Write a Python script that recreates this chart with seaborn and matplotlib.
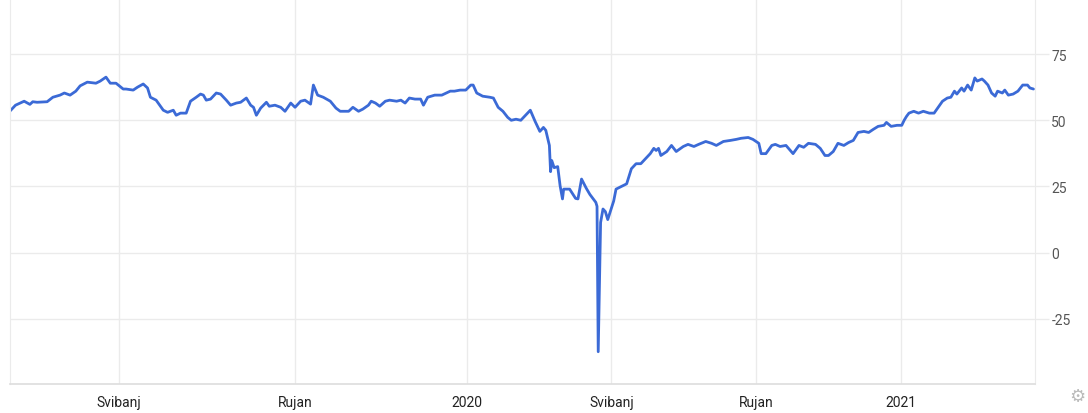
import numpy as np
import pandas as pd
import matplotlib
matplotlib.use('Agg')
import matplotlib.pyplot as plt
import matplotlib.dates as mdates
import seaborn as sns

# price readings (date, value)
dates_2019 = ['2019-02-14', '2019-02-18', '2019-02-24', '2019-02-28', '2019-03-02', '2019-03-05',
              '2019-03-12', '2019-03-16', '2019-03-21', '2019-03-24', '2019-03-28', '2019-04-01',
              '2019-04-04', '2019-04-09', '2019-04-15', '2019-04-18', '2019-04-22', '2019-04-25',
              '2019-04-29', '2019-05-04', '2019-05-06', '2019-05-11', '2019-05-14', '2019-05-18',
              '2019-05-21', '2019-05-23', '2019-05-27', '2019-06-01', '2019-06-04', '2019-06-08',
              '2019-06-10', '2019-06-13', '2019-06-17', '2019-06-20', '2019-06-24', '2019-06-27',
              '2019-06-29', '2019-07-01', '2019-07-04', '2019-07-08', '2019-07-11', '2019-07-15',
              '2019-07-18', '2019-07-22', '2019-07-25', '2019-07-29', '2019-08-01', '2019-08-03',
              '2019-08-05', '2019-08-08', '2019-08-12', '2019-08-14', '2019-08-18', '2019-08-22',
              '2019-08-25', '2019-08-29', '2019-09-01', '2019-09-05', '2019-09-08', '2019-09-12',
              '2019-09-14', '2019-09-17', '2019-09-21', '2019-09-26', '2019-09-30', '2019-10-03',
              '2019-10-09', '2019-10-12', '2019-10-16', '2019-10-19', '2019-10-23', '2019-10-25',
              '2019-10-28', '2019-10-31', '2019-11-04', '2019-11-07', '2019-11-12', '2019-11-15',
              '2019-11-18', '2019-11-21', '2019-11-25', '2019-11-29', '2019-12-01', '2019-12-04',
              '2019-12-09', '2019-12-14', '2019-12-20', '2019-12-23', '2019-12-27', '2019-12-31']
price_2019 = [53.4, 55.7, 57.2, 56.0, 57.0, 56.8,
              57.0, 58.7, 59.5, 60.3, 59.5, 61.0,
              63.0, 64.4, 64.0, 64.8, 66.3, 64.0,
              64.0, 61.8, 61.8, 61.4, 62.5, 63.7,
              62.2, 58.7, 57.6, 53.8, 53.0, 53.8,
              51.9, 52.7, 52.7, 57.2, 58.7, 59.9,
              59.5, 57.6, 58.0, 60.3, 59.9, 57.6,
              55.7, 56.5, 56.8, 58.4, 55.7, 54.9,
              51.9, 54.6, 56.8, 55.3, 55.7, 54.9,
              53.4, 56.5, 54.9, 57.2, 57.6, 56.1,
              63.3, 59.5, 58.7, 57.2, 54.6, 53.4,
              53.4, 54.9, 53.4, 54.2, 55.7, 57.2,
              56.5, 55.3, 57.2, 57.6, 57.2, 57.6,
              56.5, 58.4, 58.0, 58.0, 55.7, 58.7,
              59.5, 59.5, 61.0, 61.0, 61.4, 61.4]

dates_2020 = ['2020-01-04', '2020-01-06', '2020-01-09', '2020-01-14', '2020-01-20', '2020-01-23',
              '2020-01-27', '2020-01-31', '2020-02-04', '2020-02-07', '2020-02-11', '2020-02-15',
              '2020-02-23', '2020-02-27', '2020-03-02', '2020-03-05', '2020-03-07', '2020-03-10',
              '2020-03-11', '2020-03-12', '2020-03-14', '2020-03-17', '2020-03-19', '2020-03-21',
              '2020-03-22', '2020-03-27', '2020-04-01', '2020-04-03', '2020-04-06', '2020-04-10',
              '2020-04-13', '2020-04-18', '2020-04-19', '2020-04-20', '2020-04-22', '2020-04-24',
              '2020-04-26', '2020-04-28', '2020-05-03', '2020-05-05', '2020-05-09', '2020-05-14',
              '2020-05-18', '2020-05-22', '2020-05-26', '2020-05-30', '2020-06-03', '2020-06-06',
              '2020-06-08', '2020-06-10', '2020-06-12', '2020-06-17', '2020-06-21', '2020-06-25',
              '2020-07-01', '2020-07-05', '2020-07-10', '2020-07-14', '2020-07-20', '2020-07-25',
              '2020-07-29', '2020-08-04', '2020-08-10', '2020-08-15', '2020-08-19', '2020-08-25',
              '2020-08-29', '2020-09-03', '2020-09-05', '2020-09-09', '2020-09-14', '2020-09-17',
              '2020-09-21', '2020-09-26', '2020-10-02', '2020-10-07', '2020-10-11', '2020-10-15',
              '2020-10-21', '2020-10-25', '2020-10-29', '2020-11-01', '2020-11-05', '2020-11-09',
              '2020-11-14', '2020-11-18', '2020-11-22', '2020-11-26', '2020-12-01', '2020-12-05',
              '2020-12-09', '2020-12-13', '2020-12-18', '2020-12-20', '2020-12-24', '2020-12-29']
price_2020 = [63.3, 63.3, 60.3, 59.1, 58.7, 58.4,
              54.9, 53.4, 51.1, 50.0, 50.4, 50.0,
              53.8, 49.6, 45.8, 47.3, 46.2, 40.5,
              30.6, 34.8, 32.1, 32.5, 25.3, 20.3,
              24.0, 24.0, 20.5, 20.3, 27.8, 24.3,
              22.0, 19.0, 17.5, -37.4, 11.4, 16.5,
              15.5, 12.5, 19.5, 24.0, 24.9, 26.0,
              31.7, 33.6, 33.6, 35.5, 37.4, 39.4,
              38.6, 39.4, 36.7, 38.2, 40.5, 38.2,
              40.1, 40.9, 40.1, 40.9, 42.0, 41.3,
              40.5, 42.0, 42.4, 42.8, 43.2, 43.5,
              42.8, 41.3, 37.4, 37.4, 40.5, 40.9,
              40.1, 40.5, 37.4, 40.5, 39.8, 41.3,
              40.9, 39.4, 36.7, 36.7, 38.2, 41.3,
              40.5, 41.6, 42.4, 45.4, 45.8, 45.4,
              46.6, 47.7, 48.1, 49.2, 47.7, 48.1]

dates_2021 = ['2021-01-02', '2021-01-04', '2021-01-06', '2021-01-08', '2021-01-12', '2021-01-16',
              '2021-01-20', '2021-01-25', '2021-01-29', '2021-02-01', '2021-02-05', '2021-02-09',
              '2021-02-12', '2021-02-15', '2021-02-17', '2021-02-21', '2021-02-23', '2021-02-26',
              '2021-03-01', '2021-03-04', '2021-03-06', '2021-03-10', '2021-03-12', '2021-03-15',
              '2021-03-18', '2021-03-21', '2021-03-23', '2021-03-27', '2021-03-29', '2021-04-01',
              '2021-04-05', '2021-04-09', '2021-04-13', '2021-04-17', '2021-04-19', '2021-04-22']
price_2021 = [48.1, 50.0, 51.5, 52.7, 53.4, 52.7,
              53.4, 52.7, 52.7, 54.6, 57.2, 58.4,
              58.7, 61.0, 59.9, 62.2, 61.0, 63.3,
              61.4, 66.0, 64.8, 65.6, 64.8, 63.3,
              60.3, 59.1, 61.0, 60.3, 61.4, 59.5,
              59.9, 61.0, 63.3, 63.3, 62.2, 61.8]

tick_dates = ['2019-05-01', '2019-09-01', '2020-01-01', '2020-05-01', '2020-09-01', '2021-01-01']
tick_labels = ['Svibanj', 'Rujan', '2020', 'Svibanj', 'Rujan', '2021']
y_ticks = [-25, 0, 25, 50, 75]

df = pd.DataFrame({
    'date': pd.to_datetime(dates_2019 + dates_2020 + dates_2021),
    'price': price_2019 + price_2020 + price_2021,
})

# the source chart stretches its time axis unevenly -> piecewise linear scale
anchor_dates = ['2019-02-14', '2019-05-01', '2019-09-01', '2020-01-01',
                '2020-05-01', '2020-09-01', '2021-01-01', '2021-04-23']
anchor_pos = [0, 109, 285, 457, 601, 746, 890, 1024]
a_x = mdates.date2num(pd.to_datetime(anchor_dates))
a_x = np.concatenate([[a_x[0] - 5000], a_x, [a_x[-1] + 5000]])
a_p = np.array(anchor_pos, dtype=float)
s0 = (a_p[1] - a_p[0]) / (a_x[2] - a_x[1])
s1 = (a_p[-1] - a_p[-2]) / (a_x[-2] - a_x[-3])
a_p = np.concatenate([[a_p[0] - 5000 * s0], a_p, [a_p[-1] + 5000 * s1]])


def fwd(v):
    return np.interp(v, a_x, a_p)


def inv(v):
    return np.interp(v, a_p, a_x)


sns.set_style('white')
plt.rcParams['font.family'] = ['Roboto', 'DejaVu Sans']

fig = plt.figure(figsize=(10.88, 4.14), dpi=100)
ax = fig.add_axes([0.009, 0.070, 0.942, 0.930])

sns.lineplot(data=df, x='date', y='price', ax=ax, color='#3b6ad6', linewidth=2.0)

ax.set_xscale('function', functions=(fwd, inv))
ax.set_xlim(a_x[1], a_x[-2])
ax.set_ylim(-49.6, 95.8)

ax.set_xticks(mdates.date2num(pd.to_datetime(tick_dates)))
ax.set_xticklabels(tick_labels)
ax.set_yticks(y_ticks)
ax.set_yticklabels([str(t) for t in y_ticks])
ax.xaxis.set_minor_locator(matplotlib.ticker.NullLocator())

ax.grid(True, color='#ebebeb', linewidth=1)
ax.set_axisbelow(True)
ax.yaxis.tick_right()
ax.tick_params(axis='y', length=10, width=1, color='#ebebeb', pad=2,
               labelsize=10, labelcolor='#555555')
ax.tick_params(axis='x', length=0, pad=8, labelsize=10, labelcolor='#222222')

ax.spines['top'].set_visible(False)
ax.spines['left'].set_color('#ebebeb')
ax.spines['right'].set_color('#ebebeb')
ax.spines['bottom'].set_color('#dddddd')
ax.spines['bottom'].set_linewidth(1.2)

ax.set_xlabel('')
ax.set_ylabel('')

fig.text(0.990, 0.040, '\u2699', fontsize=13, color='#bbbbbb',
         ha='center', va='center', family=['DejaVu Sans'])

fig.savefig('out.png', dpi=100)
